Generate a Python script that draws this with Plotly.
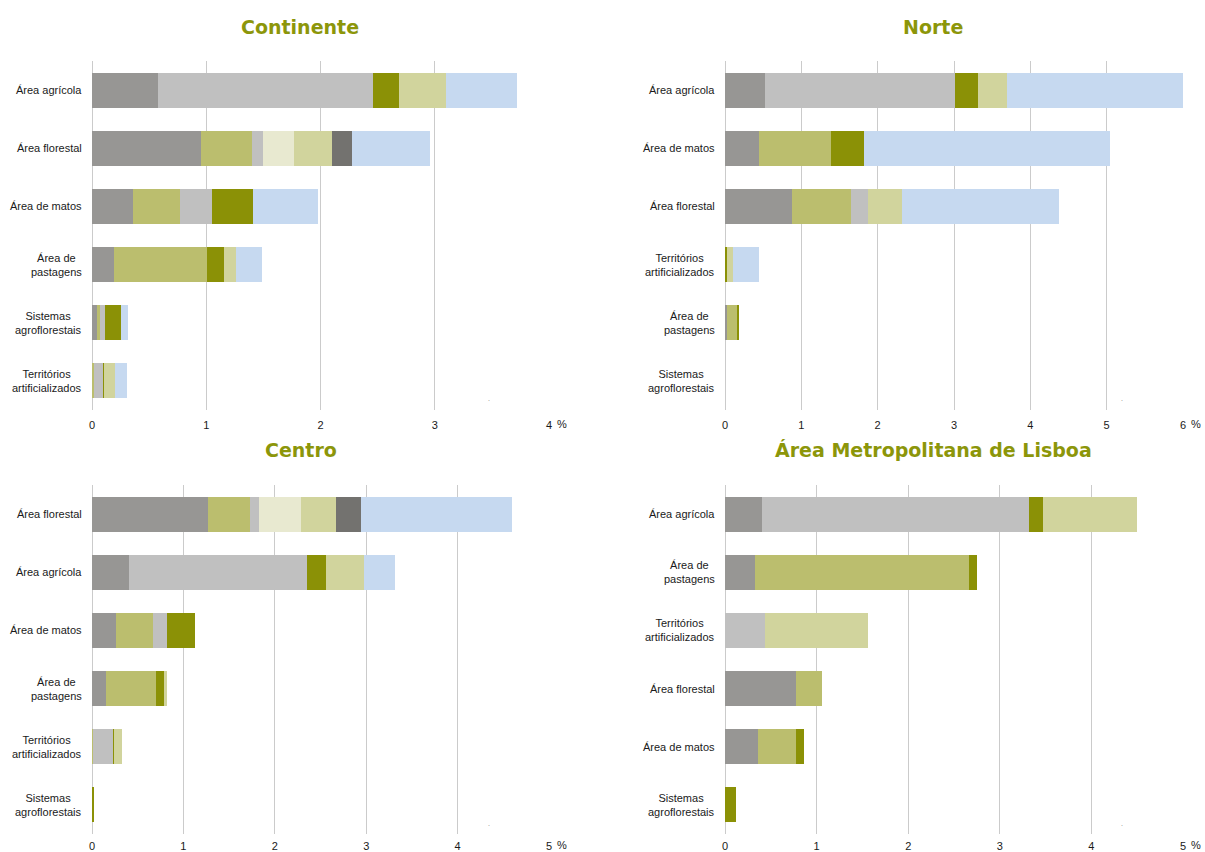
import plotly.graph_objects as go

W, H = 1205, 852

series_names = ["Série 1", "Série 2", "Série 3", "Série 4", "Série 5", "Série 6", "Série 7", "Série 8"]
series_colors = ["#979694", "#BBBE6E", "#C0C0C0", "#8B9106", "#E8E9D0", "#D1D49D", "#73726F", "#C6D9F0"]

# ---- Continente ----
cont_cats = ["Área agrícola", "Área florestal", "Área de matos", "Área de<br>pastagens",
             "Sistemas<br>agroflorestais", "Territórios<br>artificializados"]
cont_s1 = [0.58, 0.955, 0.356, 0.19, 0.044, 0]
cont_s2 = [0, 0.443, 0.418, 0.815, 0.028, 0.016]
cont_s3 = [1.88, 0.103, 0.277, 0, 0.043, 0.087]
cont_s4 = [0.23, 0, 0.356, 0.146, 0.138, 0.006]
cont_s5 = [0, 0.271, 0, 0, 0, 0]
cont_s6 = [0.41, 0.328, 0, 0.106, 0, 0.091]
cont_s7 = [0, 0.175, 0, 0, 0, 0]
cont_s8 = [0.62, 0.686, 0.571, 0.234, 0.065, 0.106]

# ---- Norte ----
norte_cats = ["Área agrícola", "Área de matos", "Área florestal", "Territórios<br>artificializados",
              "Área de<br>pastagens", "Sistemas<br>agroflorestais"]
norte_s1 = [0.52, 0.45, 0.884, 0, 0.03, 0]
norte_s2 = [0, 0.94, 0.772, 0.005, 0.13, 0]
norte_s3 = [2.49, 0, 0.22, 0, 0, 0]
norte_s4 = [0.30, 0.435, 0, 0.02, 0.02, 0]
norte_s5 = [0, 0, 0, 0, 0, 0]
norte_s6 = [0.39, 0, 0.449, 0.074, 0, 0]
norte_s7 = [0, 0, 0, 0, 0, 0]
norte_s8 = [2.31, 3.22, 2.057, 0.351, 0, 0]

# ---- Centro ----
centro_cats = ["Área florestal", "Área agrícola", "Área de matos", "Área de<br>pastagens",
               "Territórios<br>artificializados", "Sistemas<br>agroflorestais"]
centro_s1 = [1.27, 0.40, 0.262, 0.156, 0, 0]
centro_s2 = [0.457, 0, 0.406, 0.547, 0.016, 0]
centro_s3 = [0.097, 1.957, 0.156, 0, 0.222, 0]
centro_s4 = [0, 0.20, 0.305, 0.094, 0.008, 0.015]
centro_s5 = [0.461, 0, 0, 0, 0, 0]
centro_s6 = [0.383, 0.421, 0, 0.019, 0.078, 0]
centro_s7 = [0.273, 0, 0, 0, 0, 0]
centro_s8 = [1.649, 0.336, 0, 0, 0, 0]

# ---- Área Metropolitana de Lisboa ----
aml_cats = ["Área agrícola", "Área de<br>pastagens", "Territórios<br>artificializados",
            "Área florestal", "Área de matos", "Sistemas<br>agroflorestais"]
aml_s1 = [0.40, 0.322, 0, 0.77, 0.355, 0]
aml_s2 = [0, 2.34, 0, 0.294, 0.42, 0]
aml_s3 = [2.918, 0, 0.44, 0, 0, 0]
aml_s4 = [0.159, 0.086, 0, 0, 0.085, 0.122]
aml_s5 = [0, 0, 0, 0, 0, 0]
aml_s6 = [1.02, 0, 1.121, 0, 0, 0]
aml_s7 = [0, 0, 0, 0, 0, 0]
aml_s8 = [0, 0, 0, 0, 0, 0]

panel_titles = ["Continente", "Norte", "Centro", "Área Metropolitana de Lisboa"]
axis_max = [4, 6, 5, 5]

panels = [
    (cont_cats, [cont_s1, cont_s2, cont_s3, cont_s4, cont_s5, cont_s6, cont_s7, cont_s8]),
    (norte_cats, [norte_s1, norte_s2, norte_s3, norte_s4, norte_s5, norte_s6, norte_s7, norte_s8]),
    (centro_cats, [centro_s1, centro_s2, centro_s3, centro_s4, centro_s5, centro_s6, centro_s7, centro_s8]),
    (aml_cats, [aml_s1, aml_s2, aml_s3, aml_s4, aml_s5, aml_s6, aml_s7, aml_s8]),
]

# layout geometry (page pixels)
x_px = [(92, 549), (725, 1183), (92, 549), (725, 1183)]
y_px = [(61, 410), (61, 410), (485, 834), (485, 834)]
title_px = [(300, 27), (933, 27), (301, 450), (933, 450)]
tick_len = [5, 5, 2, 2]


def px_x(p):
    return p / W


def px_y(p):
    return 1 - p / H


fig = go.Figure()
layout = dict(
    width=W, height=H, margin=dict(l=0, r=0, t=0, b=0, autoexpand=False),
    paper_bgcolor="white", plot_bgcolor="white", barmode="stack", bargap=0.4,
    showlegend=False, font=dict(family="Liberation Sans, Arial, sans-serif", size=11, color="#1a1a1a"),
)
annotations = []

for i, (cats, vals) in enumerate(panels):
    xa = "x" if i == 0 else f"x{i+1}"
    ya = "y" if i == 0 else f"y{i+1}"
    for name, color, v in zip(series_names, series_colors, vals):
        fig.add_trace(go.Bar(
            y=cats, x=v, orientation="h", name=name, xaxis=xa, yaxis=ya,
            marker=dict(color=color, line=dict(width=0)),
        ))
    xk = "xaxis" if i == 0 else f"xaxis{i+1}"
    yk = "yaxis" if i == 0 else f"yaxis{i+1}"
    x0, x1 = x_px[i]
    y0, y1 = y_px[i]
    layout[xk] = dict(
        domain=[px_x(x0), px_x(x1)], range=[0, axis_max[i]], anchor=ya,
        dtick=1, tick0=0, showgrid=True, gridcolor="#CBCBCB", gridwidth=1,
        zeroline=True, zerolinecolor="#CBCBCB", zerolinewidth=1,
        showline=False, ticks="outside", ticklen=tick_len[i], tickcolor="rgba(0,0,0,0)",
        tickfont=dict(size=11, color="#1a1a1a"), fixedrange=True,
    )
    layout[yk] = dict(
        domain=[px_y(y1), px_y(y0)], anchor=xa, autorange="reversed",
        showgrid=False, zeroline=False, showline=False, ticks="",
        categoryorder="array", categoryarray=cats, showticklabels=False,
        fixedrange=True,
    )
    # category labels (centred multi-line text, right edge ~9px left of the axis)
    for c in cats:
        annotations.append(dict(
            text=c, x=px_x(x0 - 8), y=c, xref="paper", yref=ya,
            xanchor="right", yanchor="middle", align="center", showarrow=False,
            font=dict(size=11, color="#1a1a1a"),
        ))
    tx, ty = title_px[i]
    annotations.append(dict(
        text=f"<b>{panel_titles[i]}</b>", x=px_x(tx), y=px_y(ty), xref="paper", yref="paper",
        xanchor="center", yanchor="middle", showarrow=False,
        font=dict(family="DejaVu Sans, Verdana, sans-serif", size=19, color="#8C960A"),
    ))
    label_y = y1 + 9 + tick_len[i]
    annotations.append(dict(
        text="%", x=px_x(x1 + 13), y=px_y(label_y), xref="paper", yref="paper",
        xanchor="center", yanchor="middle", showarrow=False, font=dict(size=11, color="#1a1a1a"),
    ))
    dot_x = 489 if x0 < 600 else 1122
    annotations.append(dict(
        text=".", x=px_x(dot_x), y=px_y(y1 - 11), xref="paper", yref="paper",
        xanchor="center", yanchor="middle", showarrow=False, font=dict(size=7, color="#777777"),
    ))

layout["annotations"] = annotations
fig.update_layout(**layout)
fig.write_html(
    "out.html",
    config={"displayModeBar": False},
    post_script="document.body.style.margin='0';document.body.style.overflow='hidden';",
)
